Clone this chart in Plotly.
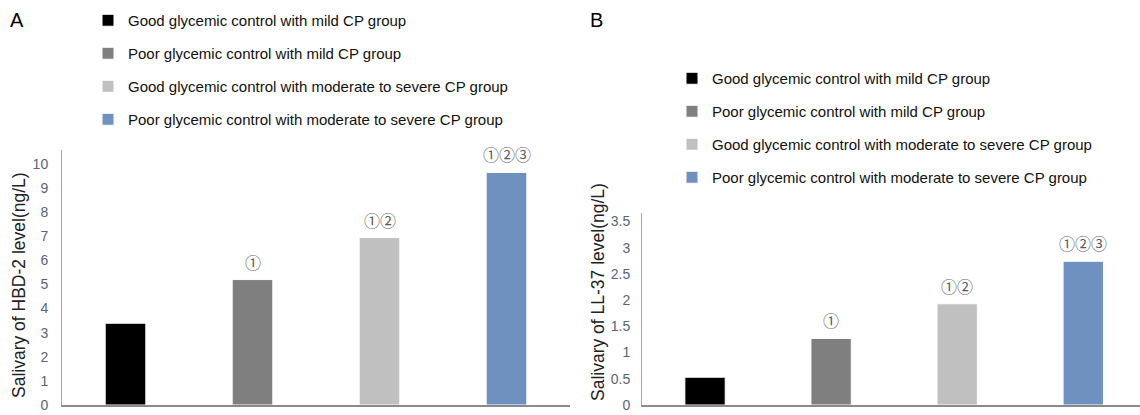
import plotly.graph_objects as go

# ---- data ----
groups = [
    "Good glycemic control with mild CP group",
    "Poor glycemic control with mild CP group",
    "Good glycemic control with moderate to severe CP group",
    "Poor glycemic control with moderate to severe CP group",
]
colors = ["#000000", "#7f7f7f", "#c0c0c0", "#6f91bf"]
hbd2_values = [3.39, 5.2, 6.94, 9.64]
ll37_values = [0.53, 1.27, 1.93, 2.74]
sig_labels = ["", "①", "①②", "①②③"]
hbd2_ticks = [0, 1, 2, 3, 4, 5, 6, 7, 8, 9, 10]
ll37_ticks = [0, 0.5, 1, 1.5, 2, 2.5, 3, 3.5]
ll37_ticktext = ["0", "0.5", "1", "1.5", "2", "2.5", "3", "3.5"]
title_a = "Salivary of HBD-2 level(ng/L)"
title_b = "Salivary of LL-37 level(ng/L)"

W, H = 1140, 415
TEXT_FONT = "Liberation Sans, Arial, sans-serif"
TICK_FONT = "Liberation Sans Narrow, Liberation Sans, Arial, sans-serif"
CIRC_FONT = "Noto Sans CJK SC, DejaVu Sans, sans-serif"

fig = go.Figure()
xpos = list(range(len(groups)))
for i, (g, c) in enumerate(zip(groups, colors)):
    fig.add_trace(go.Bar(
        x=[xpos[i]], y=[hbd2_values[i]], name=g, marker_color=c, width=0.32,
        marker_line=dict(width=1, color="#ffffff"), xaxis="x", yaxis="y",
        legend="legend", legendgroup=f"a{i}", hoverinfo="y"))
for i, (g, c) in enumerate(zip(groups, colors)):
    fig.add_trace(go.Bar(
        x=[xpos[i]], y=[ll37_values[i]], name=g, marker_color=c, width=0.32,
        marker_line=dict(width=1, color="#ffffff"), xaxis="x2", yaxis="y2",
        legend="legend2", legendgroup=f"b{i}", hoverinfo="y"))

annotations = []
for i, lab in enumerate(sig_labels):
    if lab:
        annotations.append(dict(x=xpos[i], y=hbd2_values[i], xref="x", yref="y",
                                text=lab, showarrow=False, yanchor="bottom", yshift=4,
                                font=dict(family=CIRC_FONT, size=16, color="#5a5a5a")))
        annotations.append(dict(x=xpos[i], y=ll37_values[i], xref="x2", yref="y2",
                                text=lab, showarrow=False, yanchor="bottom", yshift=4,
                                font=dict(family=CIRC_FONT, size=16, color="#5a5a5a")))

annotations += [
    dict(x=17 / W, y=1 - 20 / H, xref="paper", yref="paper", text="A", showarrow=False,
         xanchor="center", yanchor="middle", font=dict(family=TEXT_FONT, size=20, color="#000")),
    dict(x=596 / W, y=1 - 20 / H, xref="paper", yref="paper", text="B", showarrow=False,
         xanchor="center", yanchor="middle", font=dict(family=TEXT_FONT, size=20, color="#000")),
    dict(x=19 / W, y=1 - 285 / H, xref="paper", yref="paper", text=title_a, showarrow=False,
         textangle=-90, xanchor="center", yanchor="middle",
         font=dict(family=TEXT_FONT, size=17.5, color="#222")),
    dict(x=598 / W, y=1 - 292 / H, xref="paper", yref="paper", text=title_b, showarrow=False,
         textangle=-90, xanchor="center", yanchor="middle",
         font=dict(family=TEXT_FONT, size=17.5, color="#222")),
]

axis_common = dict(showgrid=False, zeroline=False, fixedrange=True, automargin=False)
fig.update_layout(
    width=W, height=H,
    margin=dict(l=0, r=0, t=0, b=0, autoexpand=False),
    paper_bgcolor="white", plot_bgcolor="white",
    barmode="overlay",
    annotations=annotations,
    xaxis=dict(domain=[62 / W, 570 / W], range=[-0.5, 3.5], anchor="y",
               showticklabels=False, ticks="", showline=True, linecolor="#8a8a8a",
               linewidth=1.5, **axis_common),
    yaxis=dict(domain=[10 / H, 265 / H], range=[0, 10.57], anchor="x",
               tickvals=hbd2_ticks, showline=True, linecolor="#a6a6a6", linewidth=1,
               ticks="", ticklabelstandoff=10, ticklabeloverflow="allow",
               tickfont=dict(family=TICK_FONT, size=14, color="#5b6378"), **axis_common),
    xaxis2=dict(domain=[642 / W, 1.0], range=[-0.5, 3.45], anchor="y2",
                showticklabels=False, ticks="", showline=True, linecolor="#8a8a8a",
                linewidth=1.5, **axis_common),
    yaxis2=dict(domain=[10 / H, 202 / H], range=[0, 3.66], anchor="x2",
                tickvals=ll37_ticks, ticktext=ll37_ticktext, showline=True,
                linecolor="#a6a6a6", linewidth=1, ticks="", ticklabelstandoff=8,
                ticklabeloverflow="allow",
                tickfont=dict(family=TICK_FONT, size=14, color="#5b6378"), **axis_common),
    legend=dict(x=88 / W, xanchor="left", y=1 - 4 / H, yanchor="top",
                font=dict(family=TEXT_FONT, size=15, color="#111"),
                tracegroupgap=10.5, bgcolor="rgba(0,0,0,0)", traceorder="grouped"),
    legend2=dict(x=672 / W, xanchor="left", y=1 - 62 / H, yanchor="top",
                 font=dict(family=TEXT_FONT, size=15, color="#111"),
                 tracegroupgap=10.5, bgcolor="rgba(0,0,0,0)", traceorder="grouped"),
)

fig.write_html("out.html", config={"displayModeBar": False},
               post_script="document.body.style.margin='0px';document.body.style.overflow='hidden';")
